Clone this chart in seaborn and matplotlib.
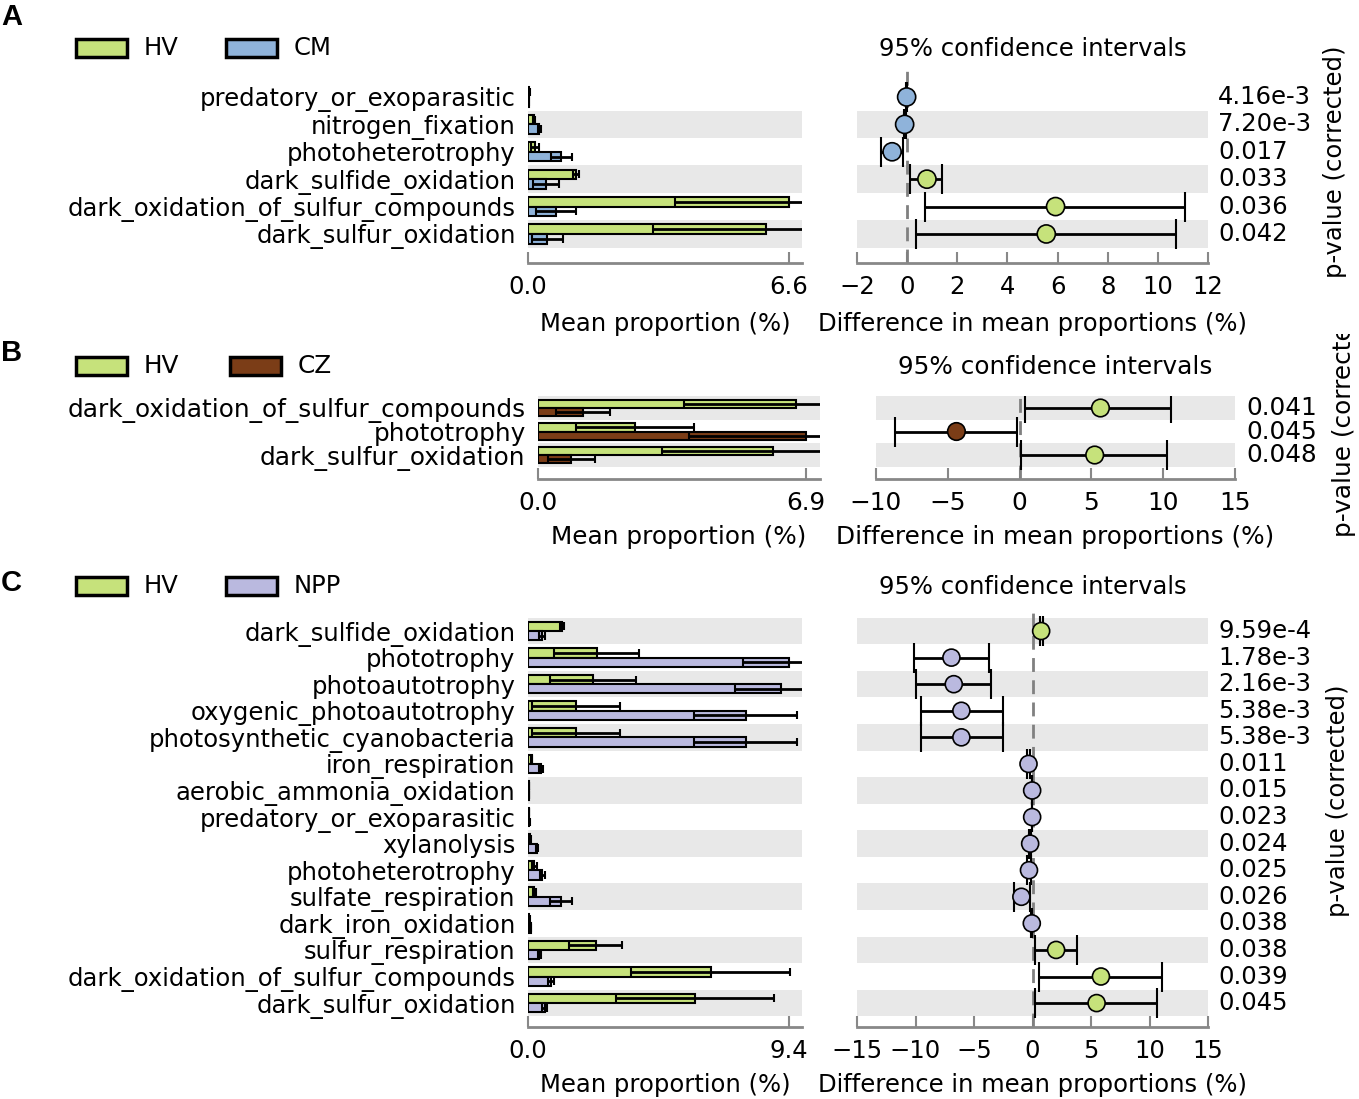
import numpy as np
import pandas as pd
import seaborn as sns
import matplotlib.pyplot as plt
from matplotlib.patches import Rectangle
from matplotlib.transforms import blended_transform_factory

# ---- panel A: HV vs CM ----
a_labels = ["predatory_or_exoparasitic", "nitrogen_fixation", "photoheterotrophy",
            "dark_sulfide_oxidation", "dark_oxidation_of_sulfur_compounds", "dark_sulfur_oxidation"]
a_hv = [0.03, 0.15, 0.18, 1.21, 6.60, 6.03]
a_hv_sd = [0.01, 0.03, 0.10, 0.07, 2.89, 2.87]
a_cm = [0.02, 0.29, 0.84, 0.46, 0.71, 0.49]
a_cm_sd = [0.01, 0.03, 0.27, 0.33, 0.50, 0.39]
a_diff = [-0.02, -0.10, -0.60, 0.79, 5.92, 5.55]
a_lo = [-0.03, -0.14, -1.05, 0.11, 0.70, 0.36]
a_hi = [-0.01, -0.06, -0.16, 1.41, 11.09, 10.71]
a_p = ["4.16e-3", "7.20e-3", "0.017", "0.033", "0.036", "0.042"]
a_maxtick = 6.6
a_citicks = [-2, 0, 2, 4, 6, 8, 10, 12]

# ---- panel B: HV vs CZ ----
b_labels = ["dark_oxidation_of_sulfur_compounds", "phototrophy", "dark_sulfur_oxidation"]
b_hv = [6.63, 2.50, 6.04]
b_hv_sd = [2.87, 1.52, 2.86]
b_cz = [1.16, 6.90, 0.86]
b_cz_sd = [0.70, 3.00, 0.60]
b_diff = [5.63, -4.40, 5.23]
b_lo = [0.41, -8.71, 0.12]
b_hi = [10.55, -0.16, 10.27]
b_p = ["0.041", "0.045", "0.048"]
b_maxtick = 6.9
b_citicks = [-10, -5, 0, 5, 10, 15]

# ---- panel C: HV vs NPP ----
c_labels = ["dark_sulfide_oxidation", "phototrophy", "photoautotrophy", "oxygenic_photoautotrophy",
            "photosynthetic_cyanobacteria", "iron_respiration", "aerobic_ammonia_oxidation",
            "predatory_or_exoparasitic", "xylanolysis", "photoheterotrophy", "sulfate_respiration",
            "dark_iron_oxidation", "sulfur_respiration", "dark_oxidation_of_sulfur_compounds",
            "dark_sulfur_oxidation"]
c_hv = [1.22, 2.48, 2.33, 1.73, 1.73, 0.13, 0.03, 0.03, 0.08, 0.23, 0.23, 0.05, 2.44, 6.58, 6.02]
c_hv_sd = [0.07, 1.53, 1.55, 1.60, 1.60, 0.03, 0.01, 0.01, 0.02, 0.08, 0.06, 0.01, 0.95, 2.87, 2.85]
c_npp = [0.51, 9.40, 9.12, 7.84, 7.84, 0.47, 0.04, 0.05, 0.32, 0.51, 1.20, 0.10, 0.41, 0.83, 0.60]
c_npp_sd = [0.10, 1.66, 1.66, 1.86, 1.86, 0.08, 0.01, 0.01, 0.04, 0.09, 0.39, 0.02, 0.06, 0.11, 0.10]
c_diff = [0.74, -6.93, -6.73, -6.08, -6.08, -0.34, -0.03, -0.03, -0.20, -0.30, -0.95, -0.06, 2.02, 5.85, 5.48]
c_lo = [0.60, -10.14, -9.94, -9.57, -9.57, -0.45, -0.05, -0.05, -0.28, -0.45, -1.62, -0.09, 0.23, 0.57, 0.23]
c_hi = [0.88, -3.69, -3.52, -2.56, -2.56, -0.22, -0.01, -0.01, -0.12, -0.15, -0.20, -0.03, 3.84, 11.10, 10.68]
c_p = ["9.59e-4", "1.78e-3", "2.16e-3", "5.38e-3", "5.38e-3", "0.011", "0.015", "0.023",
       "0.024", "0.025", "0.026", "0.038", "0.038", "0.039", "0.045"]
c_maxtick = 9.4
c_citicks = [-15, -10, -5, 0, 5, 10, 15]

GREEN = "#c6e27b"
BLUE = "#8fb3da"
BROWN = "#7b3d17"
LAVENDER = "#bab9df"
BAND = "#e8e8e8"
SPINE = "#888888"

W, H = 1359, 1099
sns.set_theme(style="white")
plt.rcParams["font.family"] = ["DejaVu Sans"]
plt.rcParams.update({"text.color": "black", "axes.labelcolor": "black",
                     "xtick.color": "black", "ytick.color": "black"})

fig = plt.figure(figsize=(W / 100, H / 100), dpi=100)


def px_axes(l, t, r, b):
    return fig.add_axes([l / W, 1 - b / H, (r - l) / W, (b - t) / H])


def style_bottom(ax, fs):
    for s in ["left", "right", "top"]:
        ax.spines[s].set_visible(False)
    ax.spines["bottom"].set_color(SPINE)
    ax.spines["bottom"].set_linewidth(2)
    ax.tick_params(axis="x", bottom=True, direction="in", length=8, width=1.5,
                   color=SPINE, labelcolor="black", pad=9, labelsize=fs)
    ax.grid(False)


def draw_panel(labels, v1, sd1, v2, sd2, diff, lo, hi, pvals, maxtick, citicks,
               name2, col2, lay):
    n = len(labels)
    fs = lay["fs"]
    rows = np.arange(n)

    # mean proportion bars
    bax = px_axes(*lay["bar"])
    df = pd.DataFrame({"function": labels * 2,
                       "group": ["HV"] * n + [name2] * n,
                       "value": list(v1) + list(v2)})
    sns.barplot(data=df, x="value", y="function", hue="group", order=labels,
                hue_order=["HV", name2], palette={"HV": GREEN, name2: col2},
                orient="h", width=0.7, saturation=1, edgecolor="black",
                linewidth=1.5, errorbar=None, legend=False, ax=bax)
    bax.errorbar(v1, rows - 0.175, xerr=sd1, fmt="none", ecolor="black",
                 elinewidth=2, capsize=3, capthick=1.5, zorder=3)
    bax.errorbar(v2, rows + 0.175, xerr=sd2, fmt="none", ecolor="black",
                 elinewidth=2, capsize=3, capthick=1.5, zorder=3)
    bax.set_xlim(0, lay["xmax"])
    bax.set_ylim(*lay["ylim"])
    bax.set_xticks([0, maxtick])
    bax.set_xticklabels(["0.0", f"{maxtick:.1f}"])
    bax.set_xlabel("Mean proportion (%)", fontsize=fs, labelpad=lay["lp"])
    bax.set_ylabel("")
    bax.tick_params(axis="y", left=False, length=0, pad=9, labelsize=fs)
    style_bottom(bax, fs)

    # confidence intervals
    cax = px_axes(*lay["ci"])
    for i in rows:
        if (n - 1 - i) % 2 == 0:
            bax.axhspan(i - 0.5, i + 0.5, color=BAND, lw=0, zorder=0)
            cax.axhspan(i - 0.5, i + 0.5, color=BAND, lw=0, zorder=0)
    cax.axvline(0, color="#808080", lw=2, ls=(0, (5, 3)), zorder=1)
    d = np.array(diff)
    cax.errorbar(d, rows, xerr=[d - np.array(lo), np.array(hi) - d], fmt="none",
                 ecolor="black", elinewidth=2, capsize=11, capthick=1.5, zorder=3)
    winner = ["HV" if x > 0 else name2 for x in diff]
    sns.scatterplot(x=d, y=rows, hue=winner, palette={"HV": GREEN, name2: col2},
                    s=lay["ms"], edgecolor="black", linewidth=1.2, legend=False,
                    zorder=4, ax=cax)
    cax.set_xlim(citicks[0], citicks[-1])
    cax.set_ylim(*lay["ylim"])
    cax.set_xticks(citicks)
    cax.set_yticks([])
    cax.set_xlabel("Difference in mean proportions (%)", fontsize=fs, labelpad=lay["lp"])
    cax.set_ylabel("")
    cax.set_title("95% confidence intervals", fontsize=fs, pad=lay["tp"])
    style_bottom(cax, fs)

    tr = blended_transform_factory(fig.transFigure, cax.transData)
    for i, p in enumerate(pvals):
        cax.text(lay["px"] / W, i, p, transform=tr, ha="left", va="center",
                 fontsize=fs, clip_on=False)

    # side label (may be clipped to the panel)
    l, t, r, b = lay["side_clip"]
    sax = px_axes(l, t, r, b)
    sax.set_axis_off()
    sx, sy = lay["side"]
    sax.text((sx - l) / (r - l), (b - sy) / (b - t), "p-value (corrected)", rotation=90,
             ha="center", va="bottom", fontsize=fs, transform=sax.transAxes, clip_on=True)

    # legend and panel letter
    ly = lay["leg_y"]
    for rx, name, col in [(lay["leg_x"][0], "HV", GREEN), (lay["leg_x"][1], name2, col2)]:
        fig.add_artist(Rectangle((rx / W, 1 - (ly + 9) / H), 51 / W, 18 / H,
                                 transform=fig.transFigure, facecolor=col,
                                 edgecolor="black", lw=2.5))
        fig.text((rx + 68) / W, 1 - ly / H, name, fontsize=fs, ha="left", va="center")
    fig.text(1 / W, 1 - lay["letter_y"] / H, lay["letter"], fontsize=21, fontweight="bold",
             family=["Liberation Sans", "DejaVu Sans"], ha="left", va="center")


draw_panel(a_labels, a_hv, a_hv_sd, a_cm, a_cm_sd, a_diff, a_lo, a_hi, a_p, a_maxtick,
           a_citicks, "CM", BLUE,
           dict(fs=17.5, bar=(528, 70, 802, 263), ci=(857, 70, 1208, 263),
                ylim=(6.06, -0.985), xmax=6.93, lp=9, tp=10, ms=170, px=1218,
                side=(1335, 278), side_clip=(1300, 0, 1359, 300),
                leg_y=48, leg_x=(76, 226), letter="A", letter_y=17))

draw_panel(b_labels, b_hv, b_hv_sd, b_cz, b_cz_sd, b_diff, b_lo, b_hi, b_p, b_maxtick,
           b_citicks, "CZ", BROWN,
           dict(fs=17.8, bar=(538, 396, 820, 479), ci=(876, 396, 1235, 479),
                ylim=(3.02, -0.51), xmax=7.26, lp=7, tp=16, ms=160, px=1246,
                side=(1344, 537), side_clip=(1300, 334, 1359, 560),
                leg_y=366, leg_x=(76, 230), letter="B", letter_y=353))

draw_panel(c_labels, c_hv, c_hv_sd, c_npp, c_npp_sd, c_diff, c_lo, c_hi, c_p, c_maxtick,
           c_citicks, "NPP", LAVENDER,
           dict(fs=17.5, bar=(528, 605, 802, 1027), ci=(857, 605, 1208, 1027),
                ylim=(14.9, -0.98), xmax=9.87, lp=7, tp=8, ms=150, px=1218,
                side=(1338, 917), side_clip=(1300, 600, 1359, 1000),
                leg_y=586, leg_x=(76, 226), letter="C", letter_y=583))

fig.savefig("out.png", dpi=100)
